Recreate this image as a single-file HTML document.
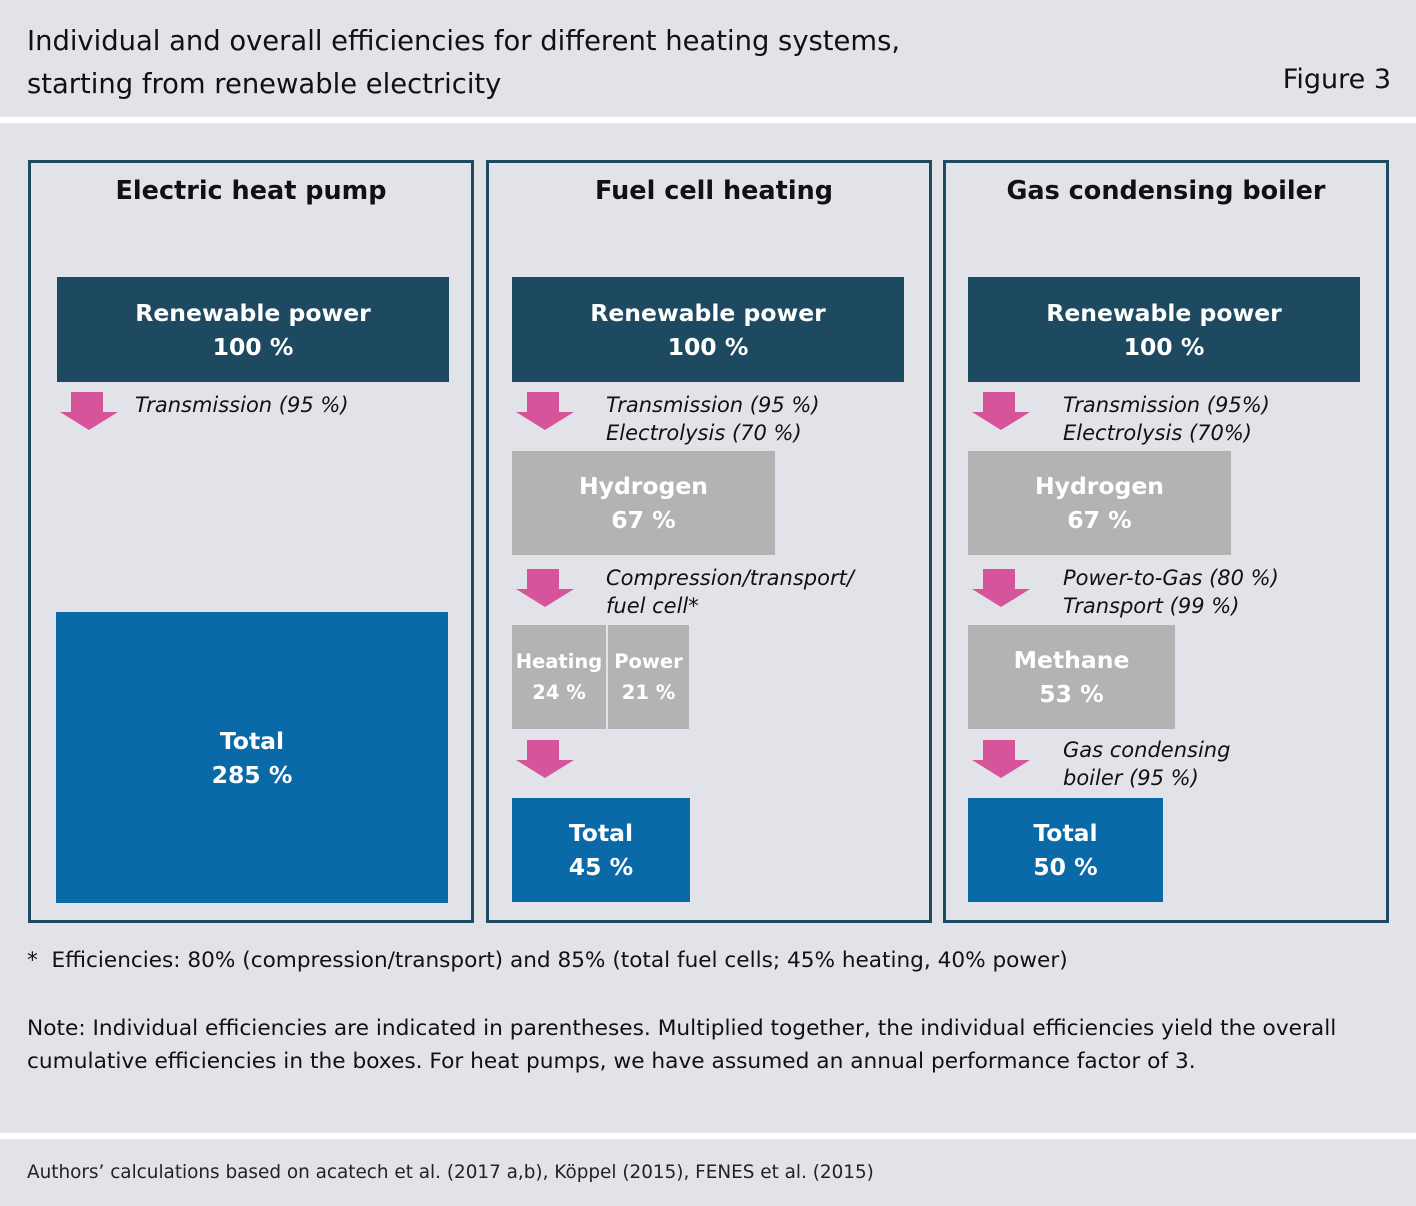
<!DOCTYPE html>
<html><head><style>
body{margin:0;width:1416px;height:1206px;background:#fff;font-family:"DejaVu Sans","Liberation Sans",sans-serif;position:relative;overflow:hidden}
div{position:absolute;box-sizing:border-box}
.bg{background:#e2e3e8}
.panel{border:3px solid #1d4a60;top:160px;height:763px}
.h{font-weight:bold;font-size:25.5px;text-align:center;color:#111}
.box{color:#fff;font-weight:bold;font-size:23.5px;text-align:center;line-height:34px;display:flex;flex-direction:column;justify-content:center;align-items:center}
.dk{background:#1d4a60}.gr{background:#b3b3b3}.bl{background:#0a6aa8}
.lab{font-style:italic;font-size:21px;line-height:28px;color:#111}
</style></head><body>
<div class="bg" style="left:0;top:0;width:1416px;height:117px"></div>
<div style="left:27px;top:20px;font-size:27.4px;line-height:43px;color:#111">Individual and overall efficiencies for different heating systems,<br>starting from renewable electricity</div>
<div style="right:25px;top:64px;font-size:27px;color:#111">Figure 3</div>
<div class="bg" style="left:0;top:123px;width:1416px;height:1010px"></div>
<div class="bg" style="left:0;top:1139px;width:1416px;height:67px"></div>
<div style="left:27px;top:1162px;font-size:18.4px;color:#222">Authors’ calculations based on acatech et al. (2017 a,b), Köppel (2015), FENES et al. (2015)</div>

<div class="panel" style="left:28px;width:446px"></div>
<div class="panel" style="left:486px;width:446px"></div>
<div class="panel" style="left:943px;width:446px"></div>
<div class="h" style="left:28px;width:446px;top:176px">Electric heat pump</div>
<div class="h" style="left:486px;width:456px;top:176px">Fuel cell heating</div>
<div class="h" style="left:943px;width:446px;top:176px">Gas condensing boiler</div>

<div class="box dk" style="left:57px;top:277px;width:392px;height:105px">Renewable power<span>100 %</span></div>
<div class="box dk" style="left:512px;top:277px;width:392px;height:105px">Renewable power<span>100 %</span></div>
<div class="box dk" style="left:968px;top:277px;width:392px;height:105px">Renewable power<span>100 %</span></div>

<svg style="position:absolute;left:0;top:0" width="1416" height="1206">
<g fill="#d6549a">
<path d="M71 392h32v20h15l-29 18l-29-18h11z"/>
<path d="M527 392h32v20h15l-29 18l-29-18h11z"/>
<path d="M983 392h32v20h15l-29 18l-29-18h11z"/>
<path d="M527 569h32v20h15l-29 18l-29-18h11z"/>
<path d="M983 569h32v20h15l-29 18l-29-18h11z"/>
<path d="M527 740h32v20h15l-29 18l-29-18h11z"/>
<path d="M983 740h32v20h15l-29 18l-29-18h11z"/>
</g></svg>

<div class="lab" style="left:135px;top:391px">Transmission (95 %)</div>
<div class="lab" style="left:606px;top:391px">Transmission (95 %)<br>Electrolysis (70 %)</div>
<div class="lab" style="left:1063px;top:391px">Transmission (95%)<br>Electrolysis (70%)</div>
<div class="lab" style="left:606px;top:564px">Compression/transport/<br>fuel cell*</div>
<div class="lab" style="left:1063px;top:564px">Power-to-Gas (80 %)<br>Transport (99 %)</div>
<div class="lab" style="left:1063px;top:736px">Gas condensing<br>boiler (95 %)</div>

<div class="box gr" style="left:512px;top:451px;width:263px;height:104px">Hydrogen<span>67 %</span></div>
<div class="box gr" style="left:968px;top:451px;width:263px;height:104px">Hydrogen<span>67 %</span></div>
<div class="box gr" style="left:512px;top:625px;width:94px;height:104px;font-size:19.5px;line-height:31px">Heating<span>24 %</span></div>
<div class="box gr" style="left:608px;top:625px;width:81px;height:104px;font-size:19.5px;line-height:31px">Power<span>21 %</span></div>
<div class="box gr" style="left:968px;top:625px;width:207px;height:104px">Methane<span>53 %</span></div>

<div class="box bl" style="left:56px;top:612px;width:392px;height:291px">Total<span>285 %</span></div>
<div class="box bl" style="left:512px;top:798px;width:178px;height:104px">Total<span>45 %</span></div>
<div class="box bl" style="left:968px;top:798px;width:195px;height:104px">Total<span>50 %</span></div>

<div style="left:27px;top:948px;font-size:21.6px;color:#111">*&nbsp; Efficiencies: 80% (compression/transport) and 85% (total fuel cells; 45% heating, 40% power)</div>
<div style="left:27px;top:1012px;font-size:21.7px;line-height:33px;color:#111">Note: Individual efficiencies are indicated in parentheses. Multiplied together, the individual efficiencies yield the overall<br>cumulative efficiencies in the boxes. For heat pumps, we have assumed an annual performance factor of 3.</div>
</body></html>
